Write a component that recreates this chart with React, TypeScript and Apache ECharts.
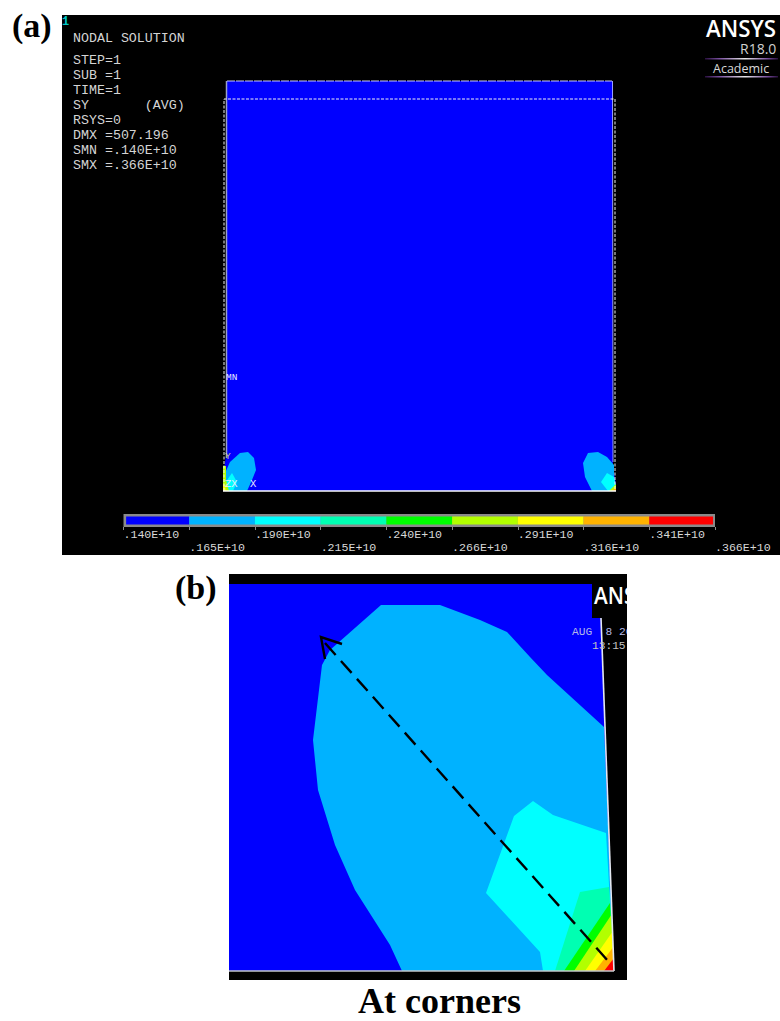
import React, { useEffect, useRef } from "react";
import * as echarts from "echarts";

type Pt = number[];

// Colour bands of the contour legend
const bandColors = ["#0000ff", "#00b2ff", "#00ffff", "#00ffb2", "#00ff00", "#b2ff00", "#ffff00", "#ffb200", "#ff0000"];
const legendLabels = [".140E+10", ".165E+10", ".190E+10", ".215E+10", ".240E+10", ".266E+10", ".291E+10", ".316E+10", ".341E+10", ".366E+10"];

// Header lines of the solver output
const headerLines = ["NODAL SOLUTION", "STEP=1", "SUB =1", "TIME=1", "SY       (AVG)", "RSYS=0", "DMX =507.196", "SMN =.140E+10", "SMX =.366E+10"];

// Panel (a): digitised outlines
const aBody: Pt[] = [[227, 81], [612, 81], [613, 465], [616, 485], [616, 491], [223, 491], [224, 470], [226, 455]];
const aLeftBlob: Pt[] = [[225, 473], [230, 462], [240, 453], [248, 452], [254, 458], [256, 470], [252, 480], [247, 491], [224, 491]];
const aLeftCyan: Pt[] = [[225, 483], [232, 473], [237, 482], [233, 491], [224, 491]];
const aLeftGreen: Pt[] = [[223, 466], [226, 466], [226, 480], [229, 491], [223, 491]];
const aLeftYellow: Pt[] = [[223, 484], [225, 485], [226, 491], [223, 491]];
const aRightBlob: Pt[] = [[583, 463], [588, 453], [598, 452], [607, 457], [614, 465], [614, 477], [616, 487], [616, 491], [592, 491], [585, 477]];
const aRightCyan: Pt[] = [[601, 482], [607, 473], [614, 477], [616, 487], [616, 491], [608, 491]];
const aRightGreen: Pt[] = [[609, 491], [616, 484], [616, 491]];
const aRightYellow: Pt[] = [[612, 491], [616, 487], [616, 491]];
const aBottomEdge: Pt[] = [[223, 491], [616, 491]];
const aDeformedTop: Pt[] = [[227, 81], [612, 81]];
const aDeformedLeft: Pt[] = [[226.5, 81], [226.5, 458]];
const aDeformedRight: Pt[] = [[612.5, 81], [613, 462]];
const aUndeformed: Pt[] = [[224, 491], [224, 99], [615, 99], [615, 491]];

// Panel (b): digitised outlines
const bBody: Pt[] = [[229, 584], [592, 584], [592, 618], [601, 618], [614, 971], [229, 971]];
const bBand1: Pt[] = [[381, 605], [440, 605], [480, 620], [507, 632], [530, 657], [547, 675], [604, 727], [614, 971], [402, 971], [390, 945], [355, 890], [335, 845], [318, 790], [313, 740], [322, 665], [330, 650]];
const bBand2: Pt[] = [[533, 801], [553, 815], [606, 833], [614, 971], [543, 971], [540, 952], [486, 893], [514, 816]];
const bBand3: Pt[] = [[580, 892], [609, 887], [614, 971], [555, 971]];
const bBand4: Pt[] = [[610, 903], [614, 971], [564, 971]];
const bBand5: Pt[] = [[611.3, 915], [614, 971], [574, 971]];
const bBand6: Pt[] = [[612.3, 932], [614, 971], [585, 971]];
const bBand7: Pt[] = [[613.3, 947], [614, 971], [595, 971]];
const bBand8: Pt[] = [[614, 958], [614, 971], [604, 971]];
const bRightEdge: Pt[] = [[601, 618], [614, 971]];
const bBottomEdge: Pt[] = [[229, 971], [614, 971]];
const bDashed: Pt[] = [[325, 643], [609, 962]];
const bArrow: Pt[] = [[342, 644], [321, 637], [325, 659]];

type Mark = { pts: Pt[]; fill?: string; stroke?: string; width?: number; dash?: number[] };

const aMarks: Mark[] = [
  { pts: aBody, fill: bandColors[0] },
  { pts: aLeftBlob, fill: bandColors[1] },
  { pts: aLeftCyan, fill: bandColors[2] },
  { pts: aLeftGreen, fill: bandColors[5] },
  { pts: aLeftYellow, fill: bandColors[6] },
  { pts: aRightBlob, fill: bandColors[1] },
  { pts: aRightCyan, fill: bandColors[2] },
  { pts: aRightGreen, fill: bandColors[5] },
  { pts: aRightYellow, fill: bandColors[7] },
  { pts: aDeformedLeft, stroke: "#9aa0c8", width: 1.5 },
  { pts: aDeformedRight, stroke: "#9aa0ff", width: 1 },
  { pts: aDeformedTop, stroke: "#c8c8ff", width: 1, dash: [8, 1] },
  { pts: aUndeformed, stroke: "#f0f0f0", width: 1, dash: [3, 1.5] },
  { pts: aBottomEdge, stroke: "#ffffff", width: 1.6 },
];

const bMarks: Mark[] = [
  { pts: bBody, fill: bandColors[0] },
  { pts: bBand1, fill: bandColors[1] },
  { pts: bBand2, fill: bandColors[2] },
  { pts: bBand3, fill: bandColors[3] },
  { pts: bBand4, fill: bandColors[4] },
  { pts: bBand5, fill: bandColors[5] },
  { pts: bBand6, fill: bandColors[6] },
  { pts: bBand7, fill: bandColors[7] },
  { pts: bBand8, fill: bandColors[8] },
  { pts: bRightEdge, stroke: "#e4e8f0", width: 1.6 },
  { pts: bBottomEdge, stroke: "#c4c8cc", width: 1.6 },
  { pts: bDashed, stroke: "#000000", width: 2.4, dash: [16, 8] },
  { pts: bArrow, stroke: "#000000", width: 2.4 },
];

function markSeries(marks: Mark[], axis: number) {
  return {
    type: "custom",
    xAxisIndex: axis,
    yAxisIndex: axis,
    silent: true,
    clip: false,
    encode: { x: 0, y: 1 },
    data: marks.map((m) => [m.pts[0][0], m.pts[0][1]]),
    renderItem: (params: any, api: any) => {
      const m = marks[params.dataIndex];
      const points = m.pts.map((p) => api.coord(p));
      return m.fill
        ? { type: "polygon", shape: { points }, style: { fill: m.fill } }
        : {
            type: "polyline",
            shape: { points },
            style: { fill: "none", stroke: m.stroke, lineWidth: m.width, lineDash: m.dash },
          };
    },
  };
}

function text(x: number, y: number, t: string, font: string, fill: string, extra: any = {}) {
  return {
    type: "text",
    x,
    y,
    z: 101,
    silent: true,
    ...extra,
    style: { text: t, font, fill, verticalAlign: "middle" },
  };
}

const MONO = '"Liberation Mono", monospace';
const SERIF = '"Liberation Serif", serif';
const SANS = '"Open Sans", sans-serif';

export default function App() {
  const ref = useRef<HTMLDivElement>(null);
  useEffect(() => {
    const chart = echarts.init(ref.current!, undefined, { renderer: "svg" });
    const headerY = [38, 60, 75, 90, 105, 120, 135, 150, 165];
    const gradient = new echarts.graphic.LinearGradient(0, 0, 1, 0, [
      { offset: 0, color: "#2a1040" },
      { offset: 0.2, color: "#7a50a0" },
      { offset: 0.55, color: "#e8e8e8" },
      { offset: 0.85, color: "#7a50a0" },
      { offset: 1, color: "#2a1040" },
    ]);
    chart.setOption({
      animation: false,
      backgroundColor: "#ffffff",
      grid: [
        { left: 62, top: 15, width: 718, height: 540, show: true, backgroundColor: "#000000", borderWidth: 0 },
        { left: 229, top: 574, width: 398, height: 406, show: true, backgroundColor: "#000000", borderWidth: 0 },
        { left: 123.5, top: 514, width: 591.5, height: 13, show: true, backgroundColor: "#8a8a8a", borderWidth: 0 },
      ],
      xAxis: [
        { type: "value", gridIndex: 0, min: 62, max: 780, show: false },
        { type: "value", gridIndex: 1, min: 229, max: 627, show: false },
        {
          type: "value",
          gridIndex: 2,
          min: 0,
          max: 9,
          interval: 1,
          splitLine: { show: false },
          axisLine: { show: false },
          axisTick: { show: true, length: 3, lineStyle: { color: "#8a8a8a", width: 1 } },
          axisLabel: {
            show: true,
            align: "left",
            margin: 1,
            color: "#d8d8d8",
            fontFamily: MONO,
            fontSize: 11.6,
            lineHeight: 13,
            formatter: (v: number) => {
              const i = Math.round(v);
              return i % 2 ? "\n" + legendLabels[i] : legendLabels[i];
            },
          },
        },
      ],
      yAxis: [
        { type: "value", gridIndex: 0, min: 15, max: 555, inverse: true, show: false },
        { type: "value", gridIndex: 1, min: 574, max: 980, inverse: true, show: false },
        { type: "value", gridIndex: 2, min: 0, max: 1, show: false },
      ],
      series: [
        markSeries(aMarks, 0),
        markSeries(bMarks, 1),
        {
          type: "custom",
          xAxisIndex: 2,
          yAxisIndex: 2,
          silent: true,
          encode: { x: 0, y: 1 },
          data: bandColors.map((_, i) => [i, 0.5]),
          renderItem: (params: any, api: any) => {
            const i = params.dataIndex;
            const a = api.coord([Math.max(i, 0.04), 0.8]);
            const b = api.coord([Math.min(i + 1, 8.97), 0.2]);
            return {
              type: "rect",
              shape: { x: a[0], y: a[1], width: b[0] - a[0], height: b[1] - a[1] },
              style: { fill: bandColors[i] },
            };
          },
        },
      ],
      graphic: [
        // Panel (b) title block, cut off by the crop of the figure
        { type: "rect", z: 90, silent: true, shape: { x: 592, y: 585, width: 35, height: 33 }, style: { fill: "#000000" } },
        { ...text(594, 595, "ANS", `600 23px ${SANS}`, "#ffffff", { scaleX: 0.9 }), z: 91 },
        { ...text(572, 632, "AUG  8 20", `11.2px ${MONO}`, "#b4b8e8"), z: 91 },
        { ...text(592, 646, "13:15:", `11.2px ${MONO}`, "#c4c4c4"), z: 91 },
        { type: "rect", z: 100, silent: true, shape: { x: 627, y: 574, width: 153, height: 90 }, style: { fill: "#ffffff" } },

        text(12, 25, "(a)", `bold 34px ${SERIF}`, "#000000"),
        text(175, 587, "(b)", `bold 34px ${SERIF}`, "#000000"),
        text(358, 1001, "At corners", `bold 36px ${SERIF}`, "#000000"),
        text(62, 22, "1", `bold 12px ${MONO}`, "#00c8c8"),
        ...headerLines.map((l, i) => text(73, headerY[i], l, `13.3px ${MONO}`, "#d4d4d4")),

        text(706, 28, "ANSYS", `600 24px ${SANS}`, "#ffffff", { scaleX: 0.93 }),
        text(740, 48, "R18.0", `14px ${SANS}`, "#d0d0d0"),
        text(713, 68.5, "Academic", `12.5px ${SANS}`, "#d8d8d8"),
        { type: "rect", z: 101, silent: true, shape: { x: 705, y: 58, width: 73, height: 1.4 }, style: { fill: gradient } },
        { type: "rect", z: 101, silent: true, shape: { x: 705, y: 76, width: 73, height: 1.4 }, style: { fill: gradient } },

        text(226, 377.5, "MN", `9.5px ${MONO}`, "#e8e8ff"),
        text(225, 456, "Y", `9.5px ${MONO}`, "#d0d080"),
        text(225, 484, "ZX", `10.5px ${MONO}`, "#e8e8ff"),
        text(250, 484, "X", `10.5px ${MONO}`, "#e8e8ff"),
      ],
    });
    return () => chart.dispose();
  }, []);
  return <div ref={ref} style={{ position: "absolute", left: 0, top: 0, width: 780, height: 1021 }} />;
}
